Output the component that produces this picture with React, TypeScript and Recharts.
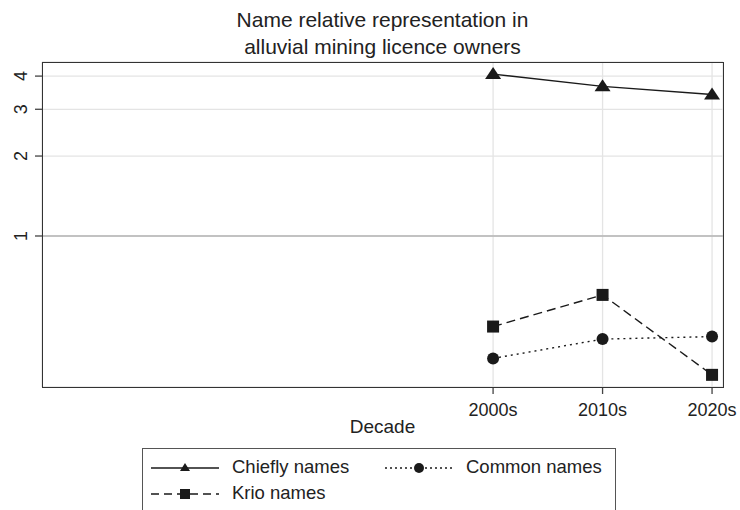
import React from "react";
import { LineChart, Line, XAxis, YAxis, CartesianGrid, ReferenceLine } from "recharts";

const decades = [2000, 2010, 2020];
const decadeLabels = ["2000s", "2010s", "2020s"];
const chiefly = [4.07, 3.66, 3.41];
const krio = [0.456, 0.6, 0.3];
const common = [0.346, 0.409, 0.418];
const yTicks = [1, 2, 3, 4];

const data = decades.map((d, i) => ({ decade: d, chiefly: chiefly[i], krio: krio[i], common: common[i] }));

const FONT = "'Liberation Sans', Arial, sans-serif";
const INK = "#1a1a1a";

const Tri = (p: any) => {
  const { cx, cy } = p;
  if (cx == null || cy == null) return <g key={p.key} />;
  return <path key={p.key} d={`M${cx},${cy - 7} L${cx + 8},${cy + 5} L${cx - 8},${cy + 5} Z`} fill={INK} />;
};
const Sq = (p: any) => {
  const { cx, cy } = p;
  if (cx == null || cy == null) return <g key={p.key} />;
  return <rect key={p.key} x={cx - 6} y={cy - 6} width={12} height={12} fill={INK} />;
};
const Dot = (p: any) => {
  const { cx, cy } = p;
  if (cx == null || cy == null) return <g key={p.key} />;
  return <circle key={p.key} cx={cx} cy={cy} r={6} fill={INK} />;
};

const YTick = (p: any) => {
  const { x, y, payload } = p;
  return (
    <g>
      <line x1={35} y1={y} x2={42} y2={y} stroke="#444" strokeWidth={1.3} />
      <text x={x - 6} y={y} transform={`rotate(-90 ${x - 6} ${y})`} textAnchor="middle" fontSize={18} fill="#222" fontFamily={FONT}>
        {payload.value}
      </text>
    </g>
  );
};

const XTick = (p: any) => {
  const { x, y, payload } = p;
  const i = decades.indexOf(payload.value);
  return (
    <g>
      <line x1={x} y1={387} x2={x} y2={394} stroke="#444" strokeWidth={1.3} />
      <text x={x} y={y + 20} textAnchor="middle" fontSize={18} fill="#222" fontFamily={FONT}>
        {decadeLabels[i]}
      </text>
    </g>
  );
};

function LegendRow({ x, y, dash, marker, label }: { x: number; y: number; dash?: string; marker: string; label: string }) {
  return (
    <>
      <svg style={{ position: "absolute", left: x, top: y - 8 }} width={72} height={16}>
        <line x1={2} y1={8} x2={70} y2={8} stroke={INK} strokeWidth={1.3} strokeDasharray={dash} />
        {marker === "tri" && <path d="M36,3 L41,11 L31,11 Z" fill={INK} />}
        {marker === "sq" && <rect x={31} y={3} width={10} height={10} fill={INK} />}
        {marker === "dot" && <circle cx={36} cy={8} r={5} fill={INK} />}
      </svg>
      <div style={{ position: "absolute", left: x + 83, top: y - 12, fontSize: 18.5, color: "#222", whiteSpace: "nowrap" }}>{label}</div>
    </>
  );
}

export default function App() {
  return (
    <div style={{ position: "absolute", left: 0, top: 0, width: 740, height: 510, background: "#fff", fontFamily: FONT, overflow: "hidden" }}>
      <div style={{ position: "absolute", left: 0, width: 765, top: 6, textAlign: "center", fontSize: 21, lineHeight: "27px", color: "#222" }}>
        Name relative representation in
        <br />
        alluvial mining licence owners
      </div>
      <LineChart width={740} height={510} data={data} margin={{ top: 62, right: 17, left: 0, bottom: 93 }}>
        <CartesianGrid stroke="#e4e4e4" strokeWidth={1.3} />
        <XAxis
          dataKey="decade"
          type="number"
          domain={[1958.8, 2021]}
          ticks={decades}
          interval={0}
          height={30}
          tickSize={7}
          tickLine={false}
          axisLine={false}
          tick={<XTick />}
          allowDataOverflow
        />
        <YAxis
          type="number"
          scale="log"
          domain={[0.27, 4.52]}
          ticks={yTicks}
          interval={0}
          width={42}
          tickSize={7}
          tickLine={false}
          axisLine={false}
          tick={<YTick />}
          allowDataOverflow
        />
        <ReferenceLine y={1} stroke="#b4b4b4" strokeWidth={1.5} />
        <Line dataKey="chiefly" stroke={INK} strokeWidth={1.4} dot={Tri} isAnimationActive={false} />
        <Line dataKey="common" stroke={INK} strokeWidth={1.4} strokeDasharray="2 4" dot={Dot} isAnimationActive={false} />
        <Line dataKey="krio" stroke={INK} strokeWidth={1.4} strokeDasharray="9 5" dot={Sq} isAnimationActive={false} />
      </LineChart>
      <div style={{ position: "absolute", left: 42, top: 62, width: 680, height: 324, border: "1.5px solid #333", pointerEvents: "none" }} />
      <div style={{ position: "absolute", left: 0, width: 765, top: 416, textAlign: "center", fontSize: 19, color: "#222" }}>Decade</div>
      <div style={{ position: "absolute", left: 142, top: 448, width: 472, height: 80, border: "1px solid #555" }}>
        <LegendRow x={6} y={19} marker="tri" label="Chiefly names" />
        <LegendRow x={240} y={19} marker="dot" dash="2 3" label="Common names" />
        <LegendRow x={6} y={45} marker="sq" dash="8 5" label="Krio names" />
      </div>
    </div>
  );
}
